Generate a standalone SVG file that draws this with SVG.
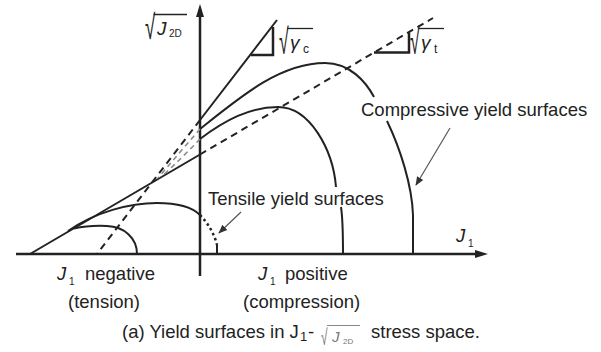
<svg xmlns="http://www.w3.org/2000/svg" width="601" height="352" viewBox="0 0 601 352">
<defs>
<style>
.t{font-family:"Liberation Sans",Arial,sans-serif;font-size:18.5px;fill:#222}
.r{font-family:"Liberation Sans",Arial,sans-serif;font-size:22px;fill:#222}
.i{font-style:italic}
.s{font-size:10px}
.ln{fill:none;stroke:#222;stroke-width:2}
.ax{fill:none;stroke:#222;stroke-width:2.5}
.ds{fill:none;stroke:#222;stroke-width:2;stroke-dasharray:7 5}
.gd{fill:none;stroke:#888;stroke-width:1.5;stroke-dasharray:5 4}
.dot{fill:none;stroke:#222;stroke-width:2.5;stroke-dasharray:2.5 3}
.tri{fill:none;stroke:#222;stroke-width:2.5;stroke-linejoin:miter}
.ar{fill:none;stroke:#555;stroke-width:1.2}
.ov{stroke:#222;stroke-width:1.3}
</style>
<marker id="ah" viewBox="0 0 10 10" refX="9" refY="5" markerWidth="9" markerHeight="9" orient="auto" markerUnits="userSpaceOnUse">
<path d="M0,1 L10,5 L0,9 Z" fill="#333"/>
</marker>
</defs>
<rect width="601" height="352" fill="#fff"/>

<g id="axes">
<line class="ax" x1="200" y1="276" x2="200" y2="14"/>
<path d="M200,4 L204,17 L196,17 Z" fill="#222"/>
<line class="ax" x1="16" y1="254" x2="478" y2="254"/>
<path d="M488,254 L475,250 L475,258 Z" fill="#222"/>
</g>

<g id="connectors">
<line class="ln" x1="200" y1="120" x2="277" y2="20"/>
<line class="ds" x1="200" y1="120" x2="97" y2="254"/>
<line class="ln" x1="30" y1="254" x2="200" y2="154.5"/>
<line class="ds" x1="200" y1="154.5" x2="433" y2="18"/>
<path class="ln" d="M200,129 C240,97 280,63 325,63 C350,63 366,82 374,97"/>
<path class="ln" d="M387,121 C400,148 412,185 413,215 L413,254"/>
<path class="ln" d="M200,139 C225,120 250,107 278,107 C310,107 333,150 336,187"/>
<path class="ln" d="M341,207 C343,220 343,235 343,254"/>
<path class="gd" d="M200,129 Q180,152 158,178"/>
<path class="gd" d="M200,139 Q182,158 161,177"/>
<path class="ln" d="M68,231 C95,212 130,203 157,203 C178,203 193,208 200,215"/>
<path class="dot" d="M200,215 C209,224 215,236 217,245"/>
<line class="ln" x1="217" y1="245" x2="217" y2="254"/>
<path class="ln" d="M74,228.5 C85,226 96,225.5 107,226 C124,226.5 137,238 137,254"/>
<polyline class="tri" points="251,55 273,55 273,27"/>
<polyline class="tri" points="374,52.6 409,52.6 409,32.5"/>
<line class="ar" x1="450" y1="128" x2="416" y2="185" marker-end="url(#ah)"/>
<line class="ar" x1="241" y1="212" x2="219" y2="233" marker-end="url(#ah)"/>
</g>

<g id="label-J2D">
<text class="r" transform="translate(145,39) scale(0.85,1.56)">√</text>
<line class="ov" x1="153.5" y1="14.5" x2="187" y2="14.5"/>
<text class="t i" x="157" y="35" style="font-size:19px">J</text>
<text class="t s" x="169" y="37">2D</text>
</g>

<g id="label-gc">
<text class="r" transform="translate(279,54) scale(0.8,1.63)">√</text>
<line class="ov" x1="287" y1="28.5" x2="313" y2="28.5"/>
<text class="t i" x="290" y="49" style="font-size:19px">γ</text>
<text class="t" x="303" y="53" style="font-size:12px">c</text>
</g>

<g id="label-gt">
<text class="r" transform="translate(410,54) scale(0.8,1.63)">√</text>
<line class="ov" x1="418" y1="28.5" x2="444" y2="28.5"/>
<text class="t i" x="421" y="49" style="font-size:19px">γ</text>
<text class="t" x="434" y="53" style="font-size:12px">t</text>
</g>

<g id="label-compressive">
<text class="t" x="361" y="116">Compressive yield surfaces</text>
</g>
<g id="label-tensile">
<text class="t" x="208" y="205">Tensile yield surfaces</text>
</g>

<g id="label-J1">
<text class="t i" x="456" y="242">J</text>
<text class="t s" x="468" y="247">1</text>
</g>

<g id="label-negative">
<text class="t i" x="57" y="280">J</text>
<text class="t s" x="69" y="285">1</text>
<text class="t" x="85" y="280">negative</text>
<text class="t" x="68" y="308">(tension)</text>
</g>

<g id="label-positive">
<text class="t i" x="258" y="280">J</text>
<text class="t s" x="270" y="285">1</text>
<text class="t" x="285" y="280">positive</text>
<text class="t" x="243" y="308">(compression)</text>
</g>

<g id="caption">
<text class="t" x="122" y="338">(a) Yield surfaces in J</text>
<text class="t" x="300" y="341" style="font-size:13px">1</text>
<text class="t" x="308" y="338">-</text>
<text class="r" transform="translate(321,345) scale(0.7,1.3)" style="font-size:17px;fill:#777">√</text>
<line x1="327" y1="325.5" x2="360" y2="325.5" stroke="#888" stroke-width="1"/>
<text class="t i" x="332" y="342" style="font-size:15px;fill:#777">J</text>
<text class="t" x="343" y="344" style="font-size:8px;fill:#777">2D</text>
<text class="t" x="371" y="338">stress space.</text>
</g>
</svg>
